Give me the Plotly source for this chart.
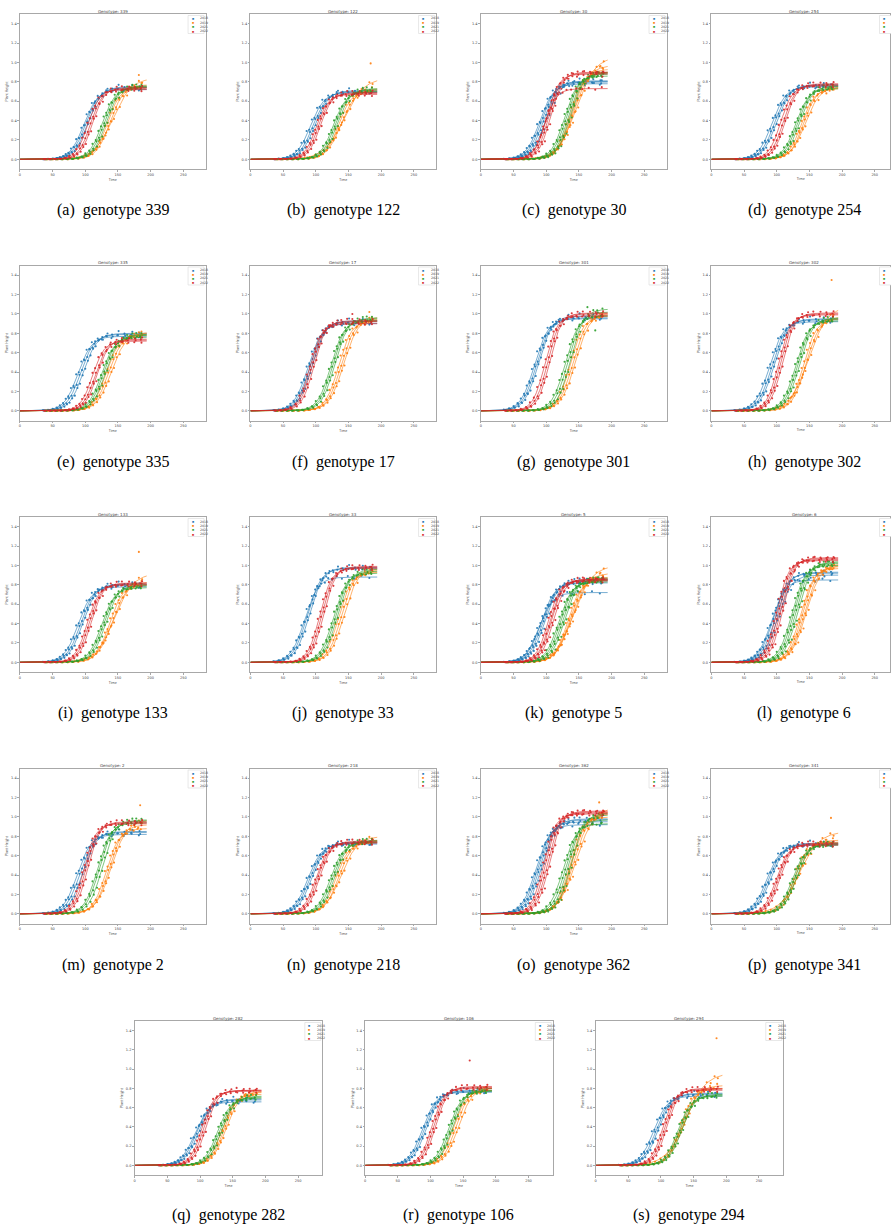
import numpy as np
import plotly.graph_objects as go

W, H = 891, 1225

GENOTYPES = [339, 122, 30, 254, 335, 17, 301, 302, 133, 33, 5, 6, 2, 218, 362, 341, 282, 106, 294]
LETTERS = list("abcdefghijklmnopqrs")
YEARS = ["2018", "2019", "2021", "2022"]
COLORS = ["#1f77b4", "#ff7f0e", "#2ca02c", "#d62728"]

# fitted logistic plateau heights (K) and inflection days (t0), per panel, per replicate
K18 = [[0.72, 0.74, 0.75], [0.69, 0.70, 0.71], [0.78, 0.80, 0.81, 0.80], [0.75, 0.76, 0.77],
       [0.77, 0.79, 0.80], [0.90, 0.92, 0.93], [0.95, 0.96, 0.98], [0.92, 0.94, 0.95],
       [0.78, 0.80, 0.81], [0.88, 0.97, 0.98], [0.72, 0.82, 0.84, 0.85], [0.85, 0.92, 0.93, 0.90],
       [0.82, 0.84, 0.85], [0.72, 0.73, 0.74], [0.92, 0.95, 0.97, 0.98], [0.71, 0.72, 0.73],
       [0.66, 0.68, 0.69], [0.76, 0.77, 0.78], [0.72, 0.74, 0.75]]
T18 = [[98, 101, 104], [92, 96, 99], [90, 93, 96, 99], [93, 97, 100],
       [89, 93, 97], [88, 91, 94], [82, 85, 88], [89, 93, 96],
       [89, 93, 96], [83, 87, 90], [89, 92, 95, 98], [92, 95, 98, 101],
       [88, 92, 96], [88, 91, 94], [84, 87, 90, 93], [85, 88, 91],
       [92, 95, 98], [88, 91, 94], [89, 93, 96]]
K19 = [[0.75, 0.77, 0.84], [0.71, 0.73, 0.84], [0.90, 0.93, 0.97, 1.06], [0.73, 0.74, 0.75],
       [0.78, 0.80, 0.81], [0.93, 0.95, 0.97], [0.98, 1.00, 1.02], [0.95, 0.97, 1.08],
       [0.80, 0.83, 0.92], [0.93, 0.95, 0.97], [0.85, 0.88, 0.92, 1.00], [0.97, 0.99, 1.00, 1.02],
       [0.88, 0.92, 0.97], [0.74, 0.76, 0.80], [1.00, 1.03, 1.06, 1.10], [0.74, 0.76, 0.85],
       [0.74, 0.76, 0.77], [0.78, 0.80, 0.81], [0.80, 0.83, 0.96]]
T19 = [[134, 138, 142], [135, 139, 143], [136, 139, 142, 146], [138, 141, 144],
       [132, 136, 140], [135, 139, 143], [137, 141, 145], [141, 145, 149],
       [137, 141, 145], [135, 139, 143], [133, 136, 139, 142], [136, 139, 142, 145],
       [132, 136, 140], [131, 135, 139], [136, 139, 142, 146], [127, 131, 135],
       [134, 137, 140], [135, 139, 143], [130, 134, 138]]
R19 = [[0.10, 0.095, 0.07], [0.10, 0.09, 0.065], [0.10, 0.095, 0.085, 0.07], [0.10, 0.10, 0.09],
       [0.10, 0.095, 0.09], [0.10, 0.095, 0.09], [0.10, 0.095, 0.09], [0.10, 0.095, 0.07],
       [0.10, 0.09, 0.07], [0.10, 0.10, 0.095], [0.10, 0.095, 0.085, 0.07], [0.10, 0.10, 0.095, 0.09],
       [0.10, 0.095, 0.085], [0.10, 0.095, 0.08], [0.10, 0.095, 0.085, 0.075], [0.10, 0.095, 0.065],
       [0.10, 0.10, 0.095], [0.10, 0.10, 0.095], [0.10, 0.09, 0.065]]
K21 = [[0.74, 0.75, 0.76], [0.70, 0.72, 0.73], [0.86, 0.88, 0.89, 0.90], [0.73, 0.75, 0.76],
       [0.76, 0.78, 0.79], [0.93, 0.95, 0.96], [0.98, 1.02, 1.05], [0.93, 0.95, 0.96],
       [0.77, 0.79, 0.80], [0.92, 0.94, 0.96], [0.83, 0.85, 0.86, 0.87], [1.00, 1.02, 1.03, 1.04],
       [0.94, 0.96, 0.97], [0.74, 0.75, 0.76], [0.93, 0.97, 1.02, 1.04], [0.71, 0.72, 0.73],
       [0.70, 0.71, 0.72], [0.77, 0.78, 0.80], [0.72, 0.73, 0.74]]
T21 = [[126, 129, 132], [127, 130, 133], [128, 131, 134, 137], [129, 132, 135],
       [125, 128, 131], [123, 126, 129], [129, 133, 137], [129, 132, 135],
       [125, 128, 131], [127, 130, 133], [119, 122, 125, 128], [123, 126, 129, 132],
       [119, 122, 126], [123, 126, 129], [126, 130, 134, 138], [124, 127, 130],
       [127, 130, 133], [128, 131, 134], [126, 129, 132]]
K22 = [[0.72, 0.73, 0.74], [0.67, 0.68, 0.69], [0.73, 0.88, 0.89, 0.90], [0.76, 0.77, 0.78],
       [0.72, 0.73, 0.74], [0.90, 0.92, 0.93], [0.98, 1.00, 1.01], [0.99, 1.00, 1.01],
       [0.80, 0.81, 0.82], [0.97, 0.98, 0.99], [0.84, 0.85, 0.86, 0.86], [1.05, 1.06, 1.07, 1.08],
       [0.93, 0.94, 0.95], [0.73, 0.74, 0.75], [1.03, 1.04, 1.05, 1.06], [0.71, 0.72, 0.73],
       [0.77, 0.78, 0.78], [0.80, 0.81, 0.82], [0.78, 0.79, 0.80]]
T22 = [[104, 108, 111], [101, 104, 107], [98, 101, 104, 107], [106, 110, 113],
       [111, 115, 118], [91, 94, 97], [98, 102, 105], [103, 106, 109],
       [103, 106, 109], [106, 109, 112], [103, 106, 108, 111], [100, 103, 106, 109],
       [98, 101, 104], [100, 103, 106], [96, 99, 102, 105], [99, 102, 105],
       [103, 106, 109], [102, 105, 108], [103, 106, 109]]
RATE18, RATE21, RATE22 = 0.095, 0.10, 0.11

# observation days per season and measurement residuals around the fitted curves
DAYS = {
    "2018": [36, 44, 51, 57, 62, 67, 71, 75, 79, 83, 87, 91, 95, 99, 103, 107, 111, 115, 120, 126, 133, 141, 150, 160, 171, 183],
    "2019": [42, 50, 58, 66, 74, 82, 90, 98, 105, 111, 117, 122, 127, 131, 135, 139, 143, 147, 152, 157, 163, 169, 175, 181, 186],
    "2021": [40, 48, 56, 64, 72, 80, 88, 95, 101, 107, 112, 117, 121, 125, 129, 133, 137, 141, 146, 151, 157, 164, 171, 178, 185],
    "2022": [38, 46, 54, 62, 70, 76, 82, 87, 92, 96, 100, 104, 108, 112, 116, 121, 126, 132, 139, 147, 156, 166, 176, 186],
}
RESID = [0.004, -0.003, 0.006, -0.005, 0.008, -0.012, 0.015, -0.018, 0.024, -0.021, 0.028, -0.024, 0.017,
         -0.026, 0.021, -0.014, 0.023, -0.018, 0.014, -0.012, 0.017, -0.014, 0.012, -0.016, 0.014, -0.010]

# isolated outlier observations: (panel index, year index, day, height)
OUTLIERS = [(0, 1, 182, 0.87), (1, 1, 184, 0.99), (5, 1, 182, 1.02), (5, 3, 156, 1.00),
            (6, 2, 163, 1.07), (6, 2, 175, 0.83), (7, 1, 184, 1.35), (8, 1, 182, 1.14),
            (12, 1, 184, 1.12), (14, 1, 181, 1.15), (15, 1, 183, 0.99), (17, 3, 160, 1.09),
            (18, 1, 185, 1.32)]

X_TICKS = [0, 50, 100, 150, 200, 250]
Y_TICKS = [0.0, 0.2, 0.4, 0.6, 0.8, 1.0, 1.2, 1.4]

# ---- layout geometry (pixels) ----
PXU = 0.6548  # px per day
panels = []
for i in range(16):
    r, c = divmod(i, 4)
    panels.append((19 + 231 * c, 14 + 251.5 * r, 186, 155, 14 + 251.5 * r + 196))
for c in range(3):
    panels.append((134 + 231 * c, 1021, 188, 154, 1215))


def logistic(t, k, t0, rate):
    return k / (1.0 + np.exp(-rate * (np.asarray(t, dtype=float) - t0)))


fig = go.Figure()
tgrid = np.arange(0, 194.5, 1.0)
annotations, shapes = [], []

for p, g in enumerate(GENOTYPES):
    n = p + 1
    left, top, w, h, cap_y = panels[p]
    right = min(left + w, W)
    xmax = (right - left) / PXU
    xa, ya = f"x{n}", f"y{n}"
    params = [
        (K18[p], T18[p], [RATE18] * len(K18[p])),
        (K19[p], T19[p], R19[p]),
        (K21[p], T21[p], [RATE21] * len(K21[p])),
        (K22[p], T22[p], [RATE22] * len(K22[p])),
    ]
    for yi, (ks, ts, rs) in enumerate(params):
        days = DAYS[YEARS[yi]]
        lx, ly, px_, py_ = [], [], [], []
        for j, (k, t0, rate) in enumerate(zip(ks, ts, rs)):
            lx += list(tgrid) + [None]
            ly += list(logistic(tgrid, k, t0, rate)) + [None]
            fitted = logistic(days, k, t0, rate)
            for d_i, (d, v) in enumerate(zip(days, fitted)):
                res = RESID[(d_i + 7 * j + 3 * yi) % len(RESID)]
                px_.append(d + (j - 1))
                py_.append(max(v + res * min(1.0, v * 4), -0.005))
        for (op, oy, od, ov) in OUTLIERS:
            if op == p and oy == yi:
                px_.append(od)
                py_.append(ov)
        fig.add_trace(go.Scatter(x=px_, y=py_, mode="markers", xaxis=xa, yaxis=ya,
                                 marker=dict(size=2.1, color=COLORS[yi], line=dict(width=0)),
                                 opacity=0.9, showlegend=False, hoverinfo="skip"))
        fig.add_trace(go.Scatter(x=lx, y=ly, mode="lines", xaxis=xa, yaxis=ya,
                                 line=dict(width=0.6, color=COLORS[yi]),
                                 showlegend=False, hoverinfo="skip"))

    axis_common = dict(showline=True, mirror=True, linecolor="#a8a8a8", linewidth=1.2,
                       showgrid=False, zeroline=False, ticks="outside", ticklen=1.5,
                       tickcolor="#a8a8a8", tickwidth=0.6,
                       tickfont=dict(size=3.5, color="#444", family="DejaVu Sans"))
    fig.layout[f"xaxis{n}"] = dict(domain=[left / W, right / W], anchor=ya, range=[0, xmax],
                                   tickvals=X_TICKS, ticktext=[str(v) for v in X_TICKS],
                                   title=dict(text="Time", font=dict(size=3.5, color="#444"), standoff=1),
                                   **axis_common)
    fig.layout[f"yaxis{n}"] = dict(domain=[1 - (top + h) / H, 1 - top / H], anchor=xa, range=[-0.1, 1.5],
                                   tickvals=Y_TICKS, ticktext=[f"{v:.1f}" for v in Y_TICKS],
                                   title=dict(text="Plant Height", font=dict(size=3.5, color="#444"), standoff=2),
                                   **axis_common)

    # panel title
    annotations.append(dict(x=(left + w / 2) / W, y=1 - (top - 2.6) / H, xref="paper", yref="paper",
                            text=f"Genotype: {g}", showarrow=False, xanchor="center", yanchor="middle",
                            font=dict(size=4, color="#444", family="DejaVu Sans")))
    # legend box (in the right-most column it runs past the page edge, as in the reference)
    lr = left + w - 1.5
    shapes.append(dict(type="rect", xref="paper", yref="paper",
                       x0=(lr - 16) / W, x1=lr / W, y0=1 - (top + 19.5) / H, y1=1 - (top + 1.5) / H,
                       line=dict(color="#d8d8d8", width=0.6), fillcolor="white"))
    for yi, yr in enumerate(YEARS):
        ey = top + 4.5 + 4.2 * yi
        annotations.append(dict(x=(lr - 11.5) / W, y=1 - ey / H, xref="paper", yref="paper",
                                text="\u25a0", showarrow=False, xanchor="center", yanchor="middle",
                                font=dict(size=3.5, color=COLORS[yi])))
        if lr - 6 + 8 <= W:
            annotations.append(dict(x=(lr - 6) / W, y=1 - ey / H, xref="paper", yref="paper",
                                    text=yr, showarrow=False, xanchor="left", yanchor="middle",
                                    font=dict(size=3.2, color="#555", family="DejaVu Sans")))
    # caption
    annotations.append(dict(x=(left + w / 2) / W, y=1 - cap_y / H, xref="paper", yref="paper",
                            text=f"({LETTERS[p]})\u00a0 genotype {g}", showarrow=False,
                            xanchor="center", yanchor="middle",
                            font=dict(size=16, color="black", family="Liberation Serif")))

fig.update_layout(width=W, height=H, margin=dict(l=0, r=0, t=0, b=0),
                  paper_bgcolor="white", plot_bgcolor="white",
                  annotations=annotations, shapes=shapes, showlegend=False)
fig.write_html("out.html")
